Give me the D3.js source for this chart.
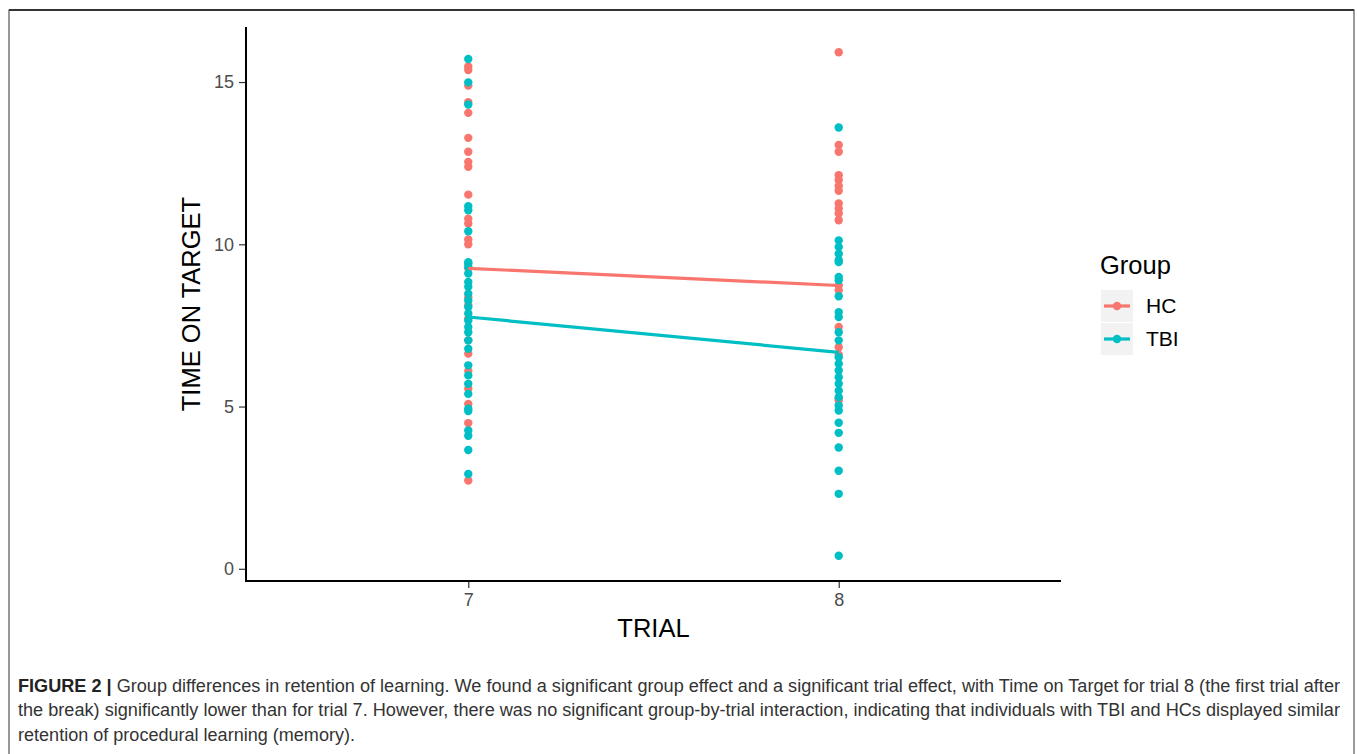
<!DOCTYPE html>
<html>
<head>
<meta charset="utf-8">
<script src="https://cdn.jsdelivr.net/npm/d3@7"></script>
<style>
  body { margin: 0; background: #fff; }
  svg { display: block; }
  .tick text { font-family: "Liberation Sans", Arial, sans-serif; }
</style>
</head>
<body>
<div id="chart"></div>
<script>
// values
const trials = ["7", "8"];
const groups = ["HC", "TBI"];
const colors = ["#F8766D", "#00BFC4"];

const hc7 = [15.48, 15.37, 14.89, 14.38, 14.05, 13.28, 12.85, 12.54, 12.39, 11.53, 10.79, 10.64, 10.15, 10.0,
  9.26, 8.37, 8.12, 7.71, 7.04, 6.63, 6.1, 5.55, 5.08, 4.49, 2.72];
const tbi7 = [15.71, 14.99, 14.31, 11.17, 11.05, 10.40, 9.40, 9.45, 9.30, 9.10, 8.84, 8.69, 8.48, 8.27, 8.07,
  7.87, 7.65, 7.45, 7.29, 7.04, 6.78, 6.27, 5.96, 5.70, 5.39, 4.93, 4.86, 4.26, 4.10, 3.66, 2.92];
const hc8 = [15.92, 13.06, 12.85, 12.13, 11.98, 11.80, 11.65, 11.26, 11.10, 10.95, 10.74, 8.73, 8.58, 7.45,
  6.83, 6.6, 5.24, 5.19];
const tbi8 = [13.60, 10.12, 9.92, 9.71, 9.51, 9.45, 8.99, 8.89, 8.40, 7.91, 7.76, 7.29, 7.04, 6.52, 6.32,
  6.11, 5.90, 5.70, 5.49, 5.29, 5.03, 4.88, 4.50, 4.19, 3.74, 3.02, 2.31, 0.40];
// group means (summary lines)
const hcMeans = [9.26, 8.73];
const tbiMeans = [7.76, 6.67];
const yTicks = [0, 5, 10, 15];

const captionLines = [
  "Group differences in retention of learning. We found a significant group effect and a significant trial effect, with Time on Target for trial 8 (the first trial after",
  "the break) significantly lower than for trial 7. However, there was no significant group-by-trial interaction, indicating that individuals with TBI and HCs displayed similar",
  "retention of procedural learning (memory)."
];

const width = 1357, height = 754;
const panel = {left: 246, right: 1061, top: 27, bottom: 581};

const svg = d3.select("#chart").append("svg")
  .attr("width", width)
  .attr("height", height);

// figure frame
svg.append("rect")
  .attr("x", 9).attr("y", 10)
  .attr("width", 1345).attr("height", 770)
  .attr("fill", "none")
  .attr("stroke", "#555")
  .attr("stroke-width", 1.2);
svg.append("line")
  .attr("x1", 9).attr("x2", 1354)
  .attr("y1", 10).attr("y2", 10)
  .attr("stroke", "#333")
  .attr("stroke-width", 2);

/*
SCALES
*/
const points = [];
[[hc7, hc8], [tbi7, tbi8]].forEach(function(g, gi){
  g.forEach(function(vals, ti){
    vals.forEach(function(v){ points.push({group: groups[gi], trial: trials[ti], value: v}); });
  });
});

const yMin = d3.min(points, d => d.value);
const yMax = d3.max(points, d => d.value);
const pad = (yMax - yMin) * 0.05;

const xScale = d3.scalePoint()
  .domain(trials)
  .range([panel.left, panel.right])
  .padding(0.6);

const yScale = d3.scaleLinear()
  .domain([yMin - pad, yMax + pad])
  .range([panel.bottom, panel.top]);

const colorScale = d3.scaleOrdinal().domain(groups).range(colors);

/*
POINTS AND MEAN LINES
*/
svg.append("g").selectAll("circle")
  .data(points)
  .enter()
  .append("circle")
  .attr("cx", d => xScale(d.trial))
  .attr("cy", d => yScale(d.value))
  .attr("r", 4.2)
  .attr("fill", d => colorScale(d.group));

const line = d3.line()
  .x((d, i) => xScale(trials[i]))
  .y(d => yScale(d));

[hcMeans, tbiMeans].forEach(function(m, i){
  svg.append("path")
    .attr("d", line(m))
    .attr("fill", "none")
    .attr("stroke", colors[i])
    .attr("stroke-width", 3.2);
});

/*
AXES
*/
const yAxis = svg.append("g")
  .attr("transform", `translate(${panel.left},0)`)
  .call(d3.axisLeft(yScale).tickValues(yTicks).tickSize(7).tickPadding(5));
yAxis.select(".domain").remove();
yAxis.selectAll(".tick line").attr("stroke", "#333").attr("stroke-width", 1.2);
yAxis.selectAll(".tick text").attr("fill", "#4d4d4d").style("font-size", "18px");

const xAxis = svg.append("g")
  .attr("transform", `translate(0,${panel.bottom})`)
  .call(d3.axisBottom(xScale).tickSize(7).tickPadding(5));
xAxis.select(".domain").remove();
xAxis.selectAll(".tick line").attr("stroke", "#333").attr("stroke-width", 1.2);
xAxis.selectAll(".tick text").attr("fill", "#4d4d4d").style("font-size", "18px");

svg.append("line")
  .attr("x1", panel.left).attr("x2", panel.left)
  .attr("y1", panel.top).attr("y2", panel.bottom + 1)
  .attr("stroke", "#000").attr("stroke-width", 2);
svg.append("line")
  .attr("x1", panel.left - 1).attr("x2", panel.right)
  .attr("y1", panel.bottom).attr("y2", panel.bottom)
  .attr("stroke", "#000").attr("stroke-width", 2);

svg.append("text")
  .attr("x", (panel.left + panel.right) / 2)
  .attr("y", 637)
  .attr("text-anchor", "middle")
  .style("font-family", "Liberation Sans, Arial, sans-serif")
  .style("font-size", "25.5px")
  .text("TRIAL");

svg.append("text")
  .attr("transform", `translate(200,${(panel.top + panel.bottom) / 2}) rotate(-90)`)
  .attr("text-anchor", "middle")
  .style("font-family", "Liberation Sans, Arial, sans-serif")
  .style("font-size", "25.5px")
  .text("TIME ON TARGET");

/*
LEGEND
*/
svg.append("text")
  .attr("x", 1100).attr("y", 274)
  .style("font-family", "Liberation Sans, Arial, sans-serif")
  .style("font-size", "25.5px")
  .text("Group");

groups.forEach(function(g, i){
  const ky = 290 + i * 33;
  svg.append("rect")
    .attr("x", 1101).attr("y", ky)
    .attr("width", 32).attr("height", 32)
    .attr("fill", "#f2f2f2");
  svg.append("line")
    .attr("x1", 1104).attr("x2", 1130)
    .attr("y1", ky + 16).attr("y2", ky + 16)
    .attr("stroke", colors[i]).attr("stroke-width", 3.2);
  svg.append("circle")
    .attr("cx", 1117).attr("cy", ky + 16).attr("r", 4.2)
    .attr("fill", colors[i]);
  svg.append("text")
    .attr("x", 1146).attr("y", ky + 23)
    .style("font-family", "Liberation Sans, Arial, sans-serif")
    .style("font-size", "21px")
    .text(g);
});

/*
CAPTION
*/
const cap = svg.append("g")
  .style("font-family", "Liberation Sans Narrow, Liberation Sans, Arial, sans-serif")
  .style("font-size", "17.5px")
  .attr("fill", "#333");

const first = cap.append("text")
  .attr("x", 18).attr("y", 692)
  .attr("textLength", 1322)
  .attr("lengthAdjust", "spacingAndGlyphs");
first.append("tspan").style("font-weight", "bold").attr("fill", "#222").text("FIGURE 2 | ");
first.append("tspan").text(captionLines[0]);

cap.append("text")
  .attr("x", 18).attr("y", 716)
  .attr("textLength", 1322)
  .attr("lengthAdjust", "spacingAndGlyphs")
  .text(captionLines[1]);

cap.append("text")
  .attr("x", 18).attr("y", 741)
  .attr("textLength", 337)
  .attr("lengthAdjust", "spacingAndGlyphs")
  .text(captionLines[2]);
</script>
</body>
</html>
